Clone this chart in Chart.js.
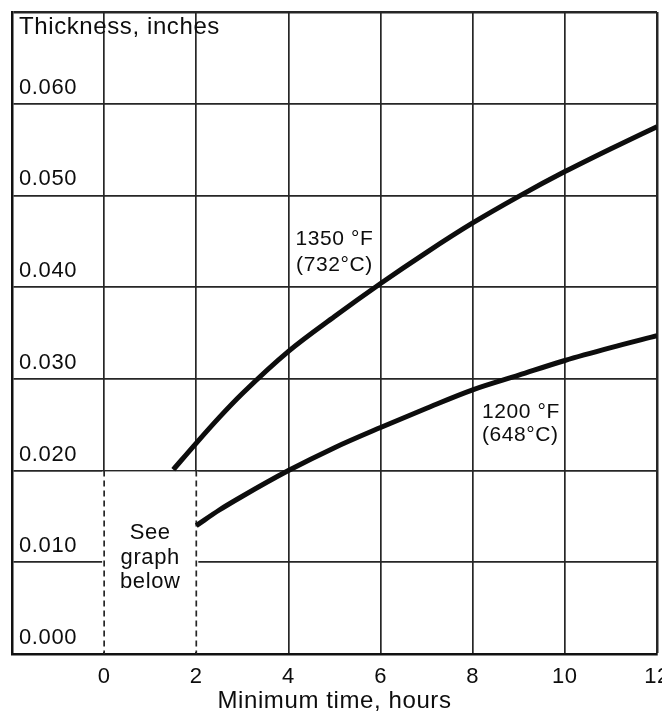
<!DOCTYPE html>
<html>
<head>
<meta charset="utf-8">
<script src="https://cdn.jsdelivr.net/npm/chart.js@4.4.1/dist/chart.umd.min.js"></script>
<style>
  html, body { margin: 0; padding: 0; background: #fff; }
</style>
</head>
<body>
<canvas id="grafico" width="662" height="713"></canvas>
<script>
// datos
const horas1350 = [1.5, 2, 2.5, 3, 4, 5, 6, 7, 8, 9, 10, 11, 12];
const espesor1350 = [0.0201, 0.0230, 0.0258, 0.0284, 0.0330, 0.0368, 0.0404, 0.0438, 0.0470, 0.0499, 0.0526, 0.0551, 0.0575];
const horas1200 = [2, 2.5, 3, 4, 5, 6, 7, 8, 9, 10, 11, 12];
const espesor1200 = [0.0140, 0.0157, 0.0172, 0.0200, 0.0225, 0.0247, 0.0268, 0.0288, 0.0304, 0.0320, 0.0334, 0.0347];
const ticksX = [-2, 0, 2, 4, 6, 8, 10, 12];
const etiquetasX = ['', '0', '2', '4', '6', '8', '10', '12'];
const ticksY = [0, 0.01, 0.02, 0.03, 0.04, 0.05, 0.06, 0.07];
const etiquetasY = ['0.000', '0.010', '0.020', '0.030', '0.040', '0.050', '0.060', ''];

const fuente = '"Liberation Sans", Arial, Helvetica, sans-serif';
const tinta = '#0d0d0d';
const rejilla = '#262626';

const extras = {
  id: 'extras',
  beforeDraw(chart) {
    // el original tiene el texto algo espaciado
    chart.ctx.letterSpacing = '0.6px';
  },
  beforeDatasetsDraw(chart) {
    const {ctx, scales: {x, y}} = chart;
    const x0 = x.getPixelForValue(0), x2 = x.getPixelForValue(2);
    const yTop = y.getPixelForValue(0.02), yBot = y.getPixelForValue(0);
    ctx.save();
    // zona "see graph below": sin rejilla, bordes discontinuos
    ctx.fillStyle = '#fff';
    ctx.fillRect(x0 - 2, yTop + 1, x2 - x0 + 4, yBot - yTop - 3);
    ctx.strokeStyle = rejilla;
    ctx.lineWidth = 1.7;
    ctx.setLineDash([6, 4]);
    [x0, x2].forEach(px => {
      ctx.beginPath();
      ctx.moveTo(px, yTop);
      ctx.lineTo(px, yBot);
      ctx.stroke();
    });
    ctx.restore();
  },
  afterDatasetsDraw(chart) {
    const {ctx, chartArea, scales: {x, y}} = chart;
    ctx.save();
    ctx.fillStyle = tinta;
    ctx.textBaseline = 'middle';
    ctx.font = '24px ' + fuente;
    ctx.textAlign = 'left';
    ctx.fillText('Thickness, inches', chartArea.left + 7, chartArea.top + 15);

    ctx.font = '21px ' + fuente;
    ctx.textAlign = 'center';
    ctx.fillText('1350 °F', x.getPixelForValue(5), y.getPixelForValue(0.0452));
    ctx.fillText('(732°C)', x.getPixelForValue(5), y.getPixelForValue(0.0424));
    ctx.font = '22px ' + fuente;
    ctx.fillText('See', x.getPixelForValue(1), y.getPixelForValue(0.0132));
    ctx.fillText('graph', x.getPixelForValue(1), y.getPixelForValue(0.0105));
    ctx.fillText('below', x.getPixelForValue(1), y.getPixelForValue(0.0079));
    ctx.font = '21px ' + fuente;
    ctx.textAlign = 'left';
    ctx.fillText('1200 °F', x.getPixelForValue(8.2), y.getPixelForValue(0.0264));
    ctx.fillText('(648°C)', x.getPixelForValue(8.2), y.getPixelForValue(0.0239));
    ctx.restore();
  }
};

function sinRelleno(s) {
  s.paddingLeft = 0; s.paddingRight = 0; s.paddingTop = 0; s.paddingBottom = 0;
}

new Chart(document.getElementById('grafico'), {
  type: 'line',
  data: {
    datasets: [{
      label: '1350 °F (732°C)',
      data: horas1350.map((h, i) => ({x: h, y: espesor1350[i]})),
      borderColor: '#0d0d0d',
      borderWidth: 5,
      pointRadius: 0,
      cubicInterpolationMode: 'monotone',
      fill: false
    }, {
      label: '1200 °F (648°C)',
      data: horas1200.map((h, i) => ({x: h, y: espesor1200[i]})),
      borderColor: '#0d0d0d',
      borderWidth: 5,
      pointRadius: 0,
      cubicInterpolationMode: 'monotone',
      fill: false
    }]
  },
  options: {
    responsive: false,
    animation: false,
    layout: {padding: {left: 12, top: 12, right: 5, bottom: 0}},
    plugins: {legend: {display: false}, tooltip: {enabled: false}},
    scales: {
      x: {
        type: 'linear',
        min: -2,
        max: 12,
        afterBuildTicks: s => { s.ticks = ticksX.map(v => ({value: v})); },
        afterFit: s => { sinRelleno(s); s.height = 59; },
        grid: {color: rejilla, lineWidth: c => c.tick && c.tick.value === 12 ? 2.5 : 1.7, drawTicks: false},
        border: {color: '#111', width: 2.5},
        ticks: {
          padding: 10,
          color: tinta,
          font: {family: fuente, size: 22},
          maxRotation: 0,
          autoSkip: false,
          callback: (v, i) => etiquetasX[i]
        },
        title: {
          display: true,
          text: 'Minimum time, hours',
          color: tinta,
          font: {family: fuente, size: 24, lineHeight: 1},
          padding: {top: 0, bottom: 0}
        }
      },
      y: {
        min: 0,
        max: 0.07,
        afterBuildTicks: s => { s.ticks = ticksY.map(v => ({value: v})); },
        afterFit: s => { sinRelleno(s); s.width = 0; },
        grid: {color: rejilla, lineWidth: c => c.tick && c.tick.value === 0.07 ? 2.5 : 1.7, drawTicks: false},
        border: {color: '#111', width: 2.5},
        ticks: {
          mirror: true,
          padding: 7,
          labelOffset: -16,
          color: tinta,
          font: {family: fuente, size: 22},
          autoSkip: false,
          callback: (v, i) => etiquetasY[i]
        }
      }
    }
  },
  plugins: [extras]
});
</script>
</body>
</html>
